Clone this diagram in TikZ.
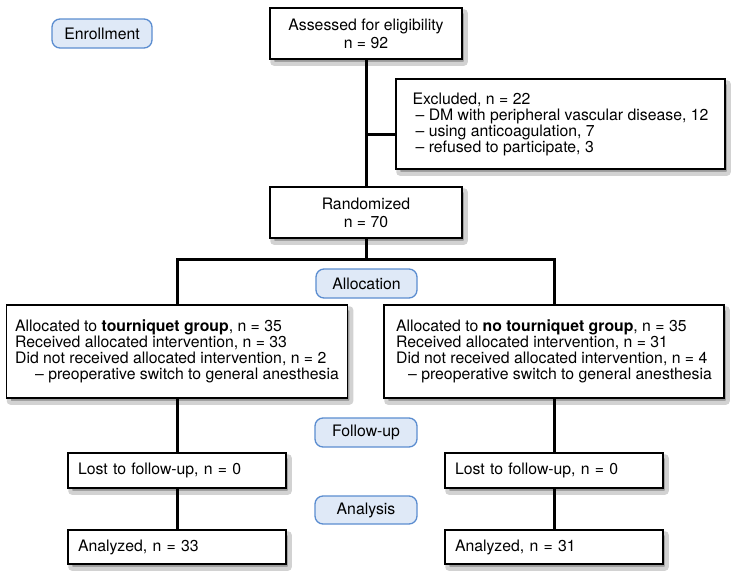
\documentclass[tikz,border=0pt]{standalone}
\usepackage{fontspec}
\setmainfont{TeX Gyre Heros}
\usetikzlibrary{positioning,backgrounds}

\definecolor{phasefill}{HTML}{DFE9F7}
\definecolor{phaseline}{HTML}{5B8DD0}
\definecolor{shadowdark}{HTML}{9A9A9A}
\definecolor{shadowsoft}{HTML}{D2D2D2}

\begin{document}
\begin{tikzpicture}
	[x=1pt, y=-1pt,
	 every node/.style={font={\fontsize{15.8}{16}\selectfont}},
	 box/.style={draw, line width=1.5pt, fill=white, align=center, inner sep=0pt},
	 phase/.style={draw=phaseline, line width=1.3pt, fill=phasefill, rounded corners=8pt,
	   minimum width=101pt, minimum height=29pt, inner sep=0pt},
	 link/.style={line width=3pt},
	 boxshadow/.style={fill=shadowdark, draw=shadowsoft, line width=4pt, rounded corners=2pt}]
	\useasboundingbox (0,0) rectangle (742,581);
	
	\node (enroll) [phase, minimum width=100pt] at (102,33.5) {Enrollment};
	\node (assess) [box, minimum width=192pt, minimum height=51pt] at (366,33.5) {Assessed for eligibility\\[2pt]n = 92};
	\node (excl) [box, align=left, minimum width=329pt, minimum height=90pt] at (560.5,124) {Excluded, n = 22\\\hspace*{3pt}– DM with peripheral vascular disease, 12\\\hspace*{3pt}– using anticoagulation, 7\\\hspace*{3pt}– refused to participate, 3};
	\node (rand) [box, minimum width=192pt, minimum height=51pt] at (366,212.5) {Randomized\\[2pt]n = 70};
	\node (alloc) [phase] at (366.5,283.5) {Allocation};
	\node (grpL) [box, align=left, minimum width=341pt, minimum height=93pt] at (177,351.5) {Allocated to \textbf{tourniquet group}, n = 35\\Received allocated intervention, n = 33\\Did not received allocated intervention, n = 2\\\hspace*{20pt}– preoperative switch to general anesthesia};
	\node (grpR) [box, align=left, minimum width=340pt, minimum height=93pt] at (554,351.5) {Allocated to \textbf{no tourniquet group}, n = 35\\Received allocated intervention, n = 31\\Did not received allocated intervention, n = 4\\\hspace*{12pt}– preoperative switch to general anesthesia};
	\node (follow) [phase, minimum width=102pt] at (366,432.5) {Follow-up};
	\node (lostL) [box, align=left, text width=198pt, inner xsep=10pt, minimum height=35pt] at (177,470.5) {Lost to follow-up, n = 0};
	\node (lostR) [box, align=left, text width=198pt, inner xsep=10pt, minimum height=35pt] at (554,470.5) {Lost to follow-up, n = 0};
	\node (analysis) [phase, minimum width=102pt, minimum height=28pt] at (366,510) {Analysis};
	\node (anaL) [box, align=left, text width=198pt, inner xsep=10pt, minimum height=34pt] at (177,547) {Analyzed, n = 33};
	\node (anaR) [box, align=left, text width=198pt, inner xsep=10pt, minimum height=34pt] at (554,547) {Analyzed, n = 31};
	
	\coordinate (exclpt) at (366,134);
	\coordinate (split) at (366,259);
	
	% soft shadows behind the boxes
	\begin{scope}[on background layer]
		\foreach \n in {assess,excl,rand,grpL,grpR,lostL,lostR,anaL,anaR}
			\path[boxshadow] ([shift={(3,4)}]\n.north west) rectangle ([shift={(3,4)}]\n.south east);
	\end{scope}
	
	\draw[link] (assess) -- (rand);
	\draw[link] (exclpt) -- (exclpt -| excl.west);
	\draw[link] (rand) -- (split);
	\draw[link] (grpL.north) |- (split) -| (grpR.north);
	\draw[link] (grpL) -- (lostL);
	\draw[link] (grpR) -- (lostR);
	\draw[link] (lostL) -- (anaL);
	\draw[link] (lostR) -- (anaR);
\end{tikzpicture}
\end{document}
